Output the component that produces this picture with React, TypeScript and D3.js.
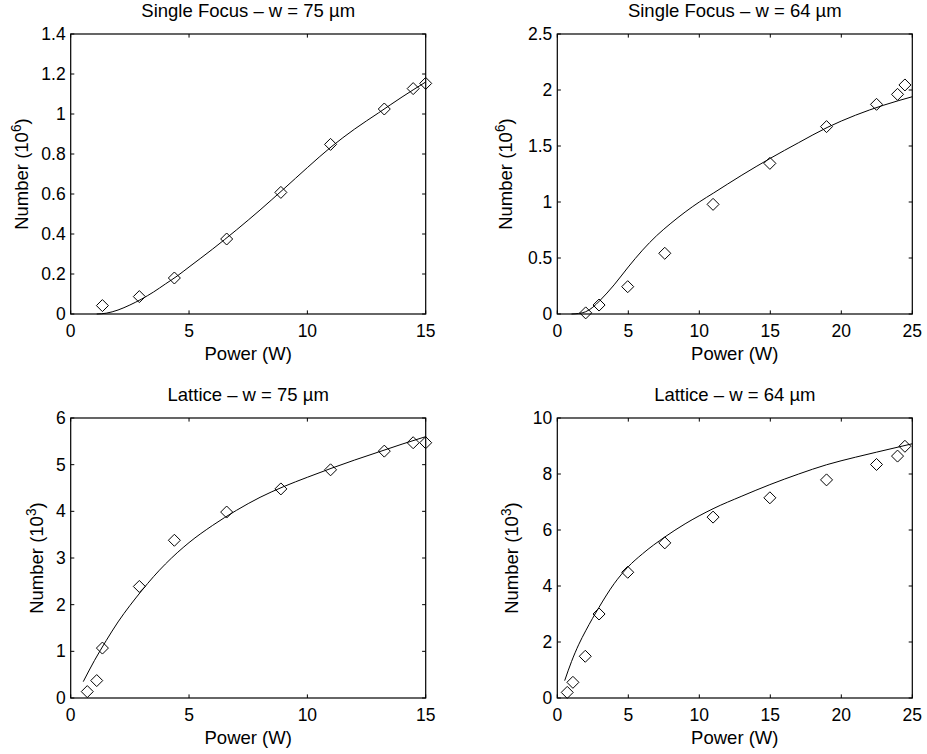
import React from "react";
import * as d3 from "d3";

// Measured atom numbers vs. trap power, with fitted model curves.
const sf75Power = [1.34, 2.9, 4.38, 6.59, 8.88, 10.98, 13.25, 14.47, 15.0];
const sf75Number = [0.042, 0.087, 0.18, 0.375, 0.608, 0.848, 1.025, 1.127, 1.153];
const sf75FitPower = [1.1, 1.5, 2, 2.5, 3, 3.5, 4, 4.5, 5, 6, 7, 8, 9, 10, 11, 12, 13, 14, 15];
const sf75FitNumber = [0, 0.004, 0.02, 0.045, 0.075, 0.11, 0.15, 0.19, 0.235, 0.325, 0.42, 0.52, 0.625, 0.732, 0.835, 0.925, 1.005, 1.085, 1.16];

const sf64Power = [2.0, 2.94, 4.96, 7.57, 10.97, 14.97, 18.96, 22.48, 23.96, 24.48];
const sf64Number = [0.01, 0.08, 0.244, 0.542, 0.979, 1.345, 1.673, 1.872, 1.961, 2.045];
const sf64FitPower = [1, 1.5, 2, 2.5, 3, 4, 5, 6, 7, 8, 9, 10, 11, 13, 15, 17, 19, 21, 23, 25];
const sf64FitNumber = [0, 0.005, 0.02, 0.06, 0.12, 0.26, 0.42, 0.57, 0.7, 0.81, 0.91, 1.0, 1.08, 1.24, 1.39, 1.53, 1.665, 1.775, 1.865, 1.94];

const lat75Power = [0.7, 1.1, 1.34, 2.9, 4.38, 6.59, 8.88, 10.98, 13.25, 14.47, 15.0];
const lat75Number = [0.137, 0.373, 1.07, 2.39, 3.38, 3.985, 4.48, 4.89, 5.29, 5.47, 5.47];
const lat75FitPower = [0.53, 1, 1.5, 2, 2.5, 3, 3.5, 4, 5, 6, 7, 8, 9, 10, 11, 12, 13, 14, 15];
const lat75FitNumber = [0.35, 0.8, 1.23, 1.63, 1.98, 2.3, 2.6, 2.87, 3.33, 3.7, 4.02, 4.3, 4.53, 4.73, 4.92, 5.1, 5.27, 5.44, 5.6];

const lat64Power = [0.7, 1.1, 1.97, 2.94, 4.96, 7.57, 10.97, 14.97, 18.96, 22.48, 23.96, 24.48];
const lat64Number = [0.2, 0.56, 1.49, 3.0, 4.49, 5.54, 6.46, 7.15, 7.79, 8.34, 8.64, 8.99];
const lat64FitPower = [0.52, 1, 1.5, 2, 2.94, 4, 4.96, 6, 7.57, 9, 10.97, 13, 14.97, 17, 18.96, 21, 22.48, 25];
const lat64FitNumber = [0.62, 1.3, 1.9, 2.4, 3.24, 4.08, 4.67, 5.15, 5.75, 6.22, 6.76, 7.21, 7.62, 8.0, 8.33, 8.6, 8.78, 9.08];

const xTicks15 = [0, 5, 10, 15];
const xTicks25 = [0, 5, 10, 15, 20, 25];
const yTicksSf75 = [0, 0.2, 0.4, 0.6, 0.8, 1, 1.2, 1.4];
const yTicksSf64 = [0, 0.5, 1, 1.5, 2, 2.5];
const yTicksLat75 = [0, 1, 2, 3, 4, 5, 6];
const yTicksLat64 = [0, 2, 4, 6, 8, 10];

const FONT = "'Liberation Sans', Arial, Helvetica, sans-serif";
const FS_TICK = 17.5;
const FS_LABEL = 18.5;

type PanelProps = {
  title: string;
  exponent: string;
  left: number;
  top: number;
  width: number;
  height: number;
  xMax: number;
  yMax: number;
  xTicks: number[];
  yTicks: number[];
  px: number[];
  py: number[];
  fx: number[];
  fy: number[];
  ylabelOffset: number;
};

function Panel(p: PanelProps) {
  const x = d3.scaleLinear().domain([0, p.xMax]).range([p.left, p.left + p.width]);
  const y = d3.scaleLinear().domain([0, p.yMax]).range([p.top + p.height, p.top]);
  const line = d3
    .line<number>()
    .x((_, i) => x(p.fx[i]))
    .y((d) => y(d))
    .curve(d3.curveMonotoneX);
  const fitPath = line(p.fy) || "";
  const tl = 3.6;
  const bottom = p.top + p.height;
  const right = p.left + p.width;
  const d = 6;
  const fmt = (v: number) => String(v);
  const cx = p.left + p.width / 2;
  const cy = p.top + p.height / 2;
  return (
    <g>
      <text x={cx} y={p.top - 17} textAnchor="middle" fontSize={FS_LABEL} fontFamily={FONT}>
        {p.title}
      </text>
      {/* fitted curve */}
      <path d={fitPath} fill="none" stroke="#000" strokeWidth={1} />
      {/* measured points */}
      {p.px.map((v, i) => (
        <path
          key={i}
          d={`M${x(v)},${y(p.py[i]) - d}L${x(v) + d},${y(p.py[i])}L${x(v)},${y(p.py[i]) + d}L${x(v) - d},${y(p.py[i])}Z`}
          fill="none"
          stroke="#000"
          strokeWidth={1}
        />
      ))}
      {/* axes box with inward ticks */}
      <rect x={p.left} y={p.top} width={p.width} height={p.height} fill="none" stroke="#000" strokeWidth={1.2} />
      {p.xTicks.map((t) => (
        <g key={"x" + t}>
          <line x1={x(t)} x2={x(t)} y1={bottom} y2={bottom - tl} stroke="#000" strokeWidth={1} />
          <line x1={x(t)} x2={x(t)} y1={p.top} y2={p.top + tl} stroke="#000" strokeWidth={1} />
          <text x={x(t)} y={bottom + 23} textAnchor="middle" fontSize={FS_TICK} fontFamily={FONT}>
            {fmt(t)}
          </text>
        </g>
      ))}
      {p.yTicks.map((t) => (
        <g key={"y" + t}>
          <line x1={p.left} x2={p.left + tl} y1={y(t)} y2={y(t)} stroke="#000" strokeWidth={1} />
          <line x1={right} x2={right - tl} y1={y(t)} y2={y(t)} stroke="#000" strokeWidth={1} />
          <text x={p.left - 5} y={y(t) + 6} textAnchor="end" fontSize={FS_TICK} fontFamily={FONT}>
            {fmt(t)}
          </text>
        </g>
      ))}
      <text x={cx} y={bottom + 46} textAnchor="middle" fontSize={FS_LABEL} fontFamily={FONT}>
        Power (W)
      </text>
      <text
        transform={`translate(${p.left - p.ylabelOffset},${cy}) rotate(-90)`}
        textAnchor="middle"
        fontSize={FS_LABEL}
        fontFamily={FONT}
      >
        Number (10
        <tspan dy={-7} fontSize={FS_LABEL * 0.75}>
          {p.exponent}
        </tspan>
        <tspan dy={7}>)</tspan>
      </text>
    </g>
  );
}

export default function App() {
  const w = 355;
  const h = 280;
  const leftA = 70.7;
  const leftB = 557.3;
  const topA = 34;
  const topB = 418;
  return (
    <svg
      width={927}
      height={754}
      style={{ position: "absolute", left: 0, top: 0, background: "#fff" }}
    >
      <rect width={927} height={754} fill="#fff" />
      <Panel
        title="Single Focus – w = 75 µm"
        exponent="6"
        left={leftA}
        top={topA}
        width={w}
        height={h}
        xMax={15}
        yMax={1.4}
        xTicks={xTicks15}
        yTicks={yTicksSf75}
        px={sf75Power}
        py={sf75Number}
        fx={sf75FitPower}
        fy={sf75FitNumber}
        ylabelOffset={43}
      />
      <Panel
        title="Single Focus – w = 64 µm"
        exponent="6"
        left={leftB}
        top={topA}
        width={w}
        height={h}
        xMax={25}
        yMax={2.5}
        xTicks={xTicks25}
        yTicks={yTicksSf64}
        px={sf64Power}
        py={sf64Number}
        fx={sf64FitPower}
        fy={sf64FitNumber}
        ylabelOffset={45}
      />
      <Panel
        title="Lattice – w = 75 µm"
        exponent="3"
        left={leftA}
        top={topB}
        width={w}
        height={h}
        xMax={15}
        yMax={6}
        xTicks={xTicks15}
        yTicks={yTicksLat75}
        px={lat75Power}
        py={lat75Number}
        fx={lat75FitPower}
        fy={lat75FitNumber}
        ylabelOffset={28}
      />
      <Panel
        title="Lattice – w = 64 µm"
        exponent="3"
        left={leftB}
        top={topB}
        width={w}
        height={h}
        xMax={25}
        yMax={10}
        xTicks={xTicks25}
        yTicks={yTicksLat64}
        px={lat64Power}
        py={lat64Number}
        fx={lat64FitPower}
        fy={lat64FitNumber}
        ylabelOffset={39}
      />
    </svg>
  );
}
